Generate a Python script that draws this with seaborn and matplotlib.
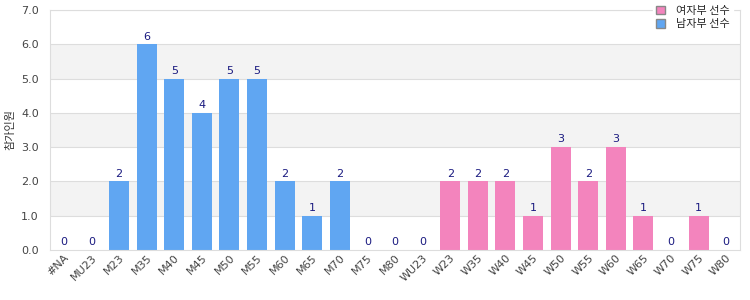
import matplotlib
matplotlib.use("Agg")
import matplotlib.pyplot as plt
import seaborn as sns
import pandas as pd
from matplotlib.ticker import FormatStrFormatter
from matplotlib.patches import Patch

categories = ["#NA", "MU23", "M23", "M35", "M40", "M45", "M50", "M55", "M60", "M65",
              "M70", "M75", "M80", "WU23", "W23", "W35", "W40", "W45", "W50", "W55",
              "W60", "W65", "W70", "W75", "W80"]
values = [0, 0, 2, 6, 5, 4, 5, 5, 2, 1, 2, 0, 0,
          0, 2, 2, 2, 1, 3, 2, 3, 1, 0, 1, 0]
groups = ["남자부 선수"] * 13 + ["여자부 선수"] * 12
legend_labels = ["여자부 선수", "남자부 선수"]
y_label = "참가인원"

sns.set_style("white")
plt.rcParams['font.family'] = ['DejaVu Sans', 'Noto Sans CJK KR']

df = pd.DataFrame({"cat": categories, "val": values, "grp": groups})
palette = {"남자부 선수": "#60a6f2", "여자부 선수": "#f384bd"}

fig = plt.figure(figsize=(7.5, 3), dpi=100)
ax = fig.add_axes([0.0667, 0.1667, 0.92, 0.80])

for lo in (1, 3, 5):
    ax.axhspan(lo, lo + 1, color="#f3f3f3", zorder=0, lw=0)
for y in range(1, 8):
    ax.axhline(y, color="#dddddd", lw=0.8, zorder=0.5)

sns.barplot(data=df, x="cat", y="val", hue="grp", palette=palette, dodge=False,
            width=0.72, ax=ax, legend=False, zorder=2, saturation=1, linewidth=0,
            edgecolor="none")

for i, v in enumerate(values):
    ax.text(i, v + 0.08, str(v), ha="center", va="bottom", fontsize=8, color="#1a1a80")

ax.set_ylim(0, 7)
ax.set_xlim(-0.5, len(categories) - 0.5)
ax.yaxis.set_major_formatter(FormatStrFormatter("%.1f"))
ax.set_yticks(range(0, 8))
ax.set_xlabel("")
ax.set_ylabel(y_label, fontsize=8, color="#333333", family=['Noto Sans CJK KR', 'DejaVu Sans'])
ax.tick_params(axis="y", labelsize=8, colors="#444444", length=0, pad=8)
ax.tick_params(axis="x", labelsize=8, colors="#444444", length=0, pad=2)
for lbl in ax.get_xticklabels():
    lbl.set_rotation(45)
    lbl.set_ha("right")
    lbl.set_rotation_mode("anchor")
for s in ax.spines.values():
    s.set_color("#dddddd")
    s.set_linewidth(0.8)

handles = [Patch(facecolor=palette[l], edgecolor="#888888", label=l) for l in legend_labels]
leg = fig.legend(handles=handles, loc="upper right", bbox_to_anchor=(0.985, 1.01),
                 frameon=True, fontsize=8, handlelength=0.8, handleheight=0.8,
                 borderpad=0.3, labelspacing=0.3, handletextpad=1.0,
                 prop={"family": ['Noto Sans CJK KR', 'DejaVu Sans'], "size": 8})
leg.get_frame().set_edgecolor("white")
leg.get_frame().set_facecolor("white")
leg.get_frame().set_alpha(1)

fig.savefig("out.png", dpi=100)
